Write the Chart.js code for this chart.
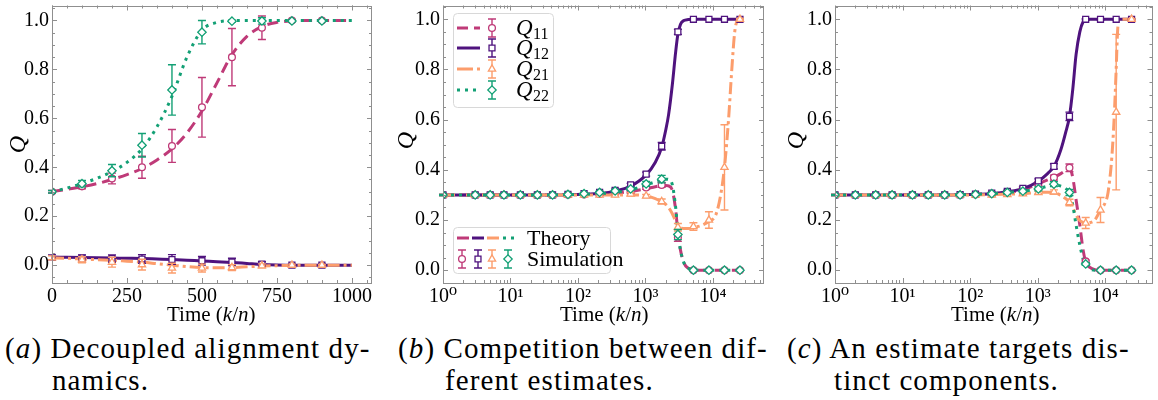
<!DOCTYPE html>
<html>
<head>
<meta charset="utf-8">
<script src="https://cdn.jsdelivr.net/npm/chart.js@4/dist/chart.umd.min.js"></script>
<style>
  body { margin: 0; background: #fff; width: 1158px; height: 400px; position: relative; overflow: hidden; font-family: "Liberation Serif", "DejaVu Serif", serif; color: #000; }
  canvas { position: absolute; top: 0; }
  .lab { position: absolute; font-family: "Liberation Serif", "DejaVu Serif", serif; font-size: 21px; line-height: 24px; white-space: nowrap; }
  .ylab { position: absolute; font-family: "Liberation Serif", "DejaVu Serif", serif; font-size: 24px; font-style: italic; transform: rotate(-90deg); }
  .cap { position: absolute; font-family: "Liberation Serif", "DejaVu Serif", serif; font-size: 29px; line-height: 32px; white-space: nowrap; letter-spacing: 1.1px; }
</style>
</head>
<body>
<canvas id="chartA" width="385" height="320" style="left:0px"></canvas>
<canvas id="chartB" width="390" height="320" style="left:380px"></canvas>
<canvas id="chartC" width="388" height="320" style="left:770px"></canvas>

<div class="ylab" style="left:9px;top:131px">Q</div>
<div class="ylab" style="left:397px;top:127px">Q</div>
<div class="ylab" style="left:787px;top:127px">Q</div>
<div class="lab" style="left:167px;top:302px">Time (<i>k</i>/<i>n</i>)</div>
<div class="lab" style="left:560px;top:302px">Time (<i>k</i>/<i>n</i>)</div>
<div class="lab" style="left:951px;top:302px">Time (<i>k</i>/<i>n</i>)</div>

<div class="cap" style="left:5px;top:332px">(<i>a</i>) Decoupled alignment dy-</div>
<div class="cap" style="left:52px;top:364px">namics.</div>
<div class="cap" style="left:398px;top:332px">(<i>b</i>) Competition between dif-</div>
<div class="cap" style="left:445px;top:364px">ferent estimates.</div>
<div class="cap" style="left:787px;top:332px">(<i>c</i>) An estimate targets dis-</div>
<div class="cap" style="left:834px;top:364px">tinct components.</div>

<script>
// ----- Cores -----
const C11 = "#bf3a78";
const C12 = "#4f137e";
const C21 = "#fc9d6c";
const C22 = "#13a075";
const FONT = '"Liberation Serif", "DejaVu Serif", serif';

// ----- Eixos -----
const yTicks = [0, 0.2, 0.4, 0.6, 0.8, 1.0];
const aXTicks = [0, 250, 500, 750, 1000];
const logTicks = [1, 10, 100, 1000, 10000];
const logLabels = ["10\u2070", "10\u00b9", "10\u00b2", "10\u00b3", "10\u2074"];

// ----- (a) simulacao -----
const aTime = [0, 100, 200, 300, 400, 500, 600, 700, 800, 900];
const aQ11 = [0.30, 0.322, 0.354, 0.40, 0.487, 0.645, 0.85, 0.97, 1.0, 1.0];
const aQ11Err = [0.005, 0.01, 0.022, 0.045, 0.067, 0.122, 0.117, 0.048, 0.004, 0.003];
const aQ12 = [0.032, 0.029, 0.027, 0.025, 0.023, 0.018, 0.013, 0.004, 0.0, 0.0];
const aQ12Err = [0.01, 0.013, 0.015, 0.018, 0.02, 0.018, 0.015, 0.01, 0.005, 0.004];
const aQ21 = [0.03, 0.022, 0.012, 0.002, -0.012, -0.012, -0.01, -0.003, 0.0, 0.0];
const aQ21Err = [0.008, 0.012, 0.02, 0.022, 0.02, 0.016, 0.012, 0.008, 0.004, 0.003];
const aQ22 = [0.30, 0.333, 0.386, 0.49, 0.716, 0.952, 0.997, 0.998, 0.998, 0.998];
const aQ22Err = [0.005, 0.013, 0.025, 0.048, 0.103, 0.048, 0.004, 0.013, 0.004, 0.003];

// ----- (a) teoria -----
const aCurveT = [0, 50, 100, 150, 200, 250, 300, 350, 400, 450, 500, 550, 600, 650, 700, 750, 800, 900, 1000];
const aCurveQ11 = [0.30, 0.31, 0.32, 0.333, 0.35, 0.37, 0.395, 0.43, 0.475, 0.54, 0.63, 0.745, 0.86, 0.935, 0.975, 0.992, 0.998, 1.0, 1.0];
const aCurveQ12 = [0.033, 0.032, 0.031, 0.03, 0.029, 0.028, 0.027, 0.025, 0.023, 0.02, 0.017, 0.014, 0.011, 0.007, 0.003, 0.001, 0.0, 0.0, 0.0];
const aCurveQ21 = [0.03, 0.028, 0.025, 0.022, 0.02, 0.016, 0.012, 0.006, 0.0, -0.006, -0.01, -0.011, -0.01, -0.007, -0.004, -0.002, -0.001, 0.0, 0.0];
const aCurveQ22 = [0.30, 0.315, 0.333, 0.355, 0.382, 0.42, 0.475, 0.565, 0.69, 0.85, 0.96, 0.992, 0.999, 1.0, 1.0, 1.0, 1.0, 1.0, 1.0];

// ----- (b) simulacao -----
const bTime = [1, 3, 5, 8, 14, 25, 42, 71, 123, 209, 355, 603, 1023, 1738, 3020, 5130, 8710, 14800, 25100];
const bQ11 = [0.30, 0.30, 0.30, 0.30, 0.30, 0.30, 0.30, 0.301, 0.302, 0.304, 0.307, 0.314, 0.33, 0.34, 0.13, 0.0, 0.0, 0.0, 0.0];
const bQ11Err = [0.002, 0.002, 0.002, 0.002, 0.002, 0.002, 0.002, 0.003, 0.003, 0.004, 0.005, 0.006, 0.008, 0.01, 0.015, 0.003, 0.002, 0.002, 0.002];
const bQ12 = [0.30, 0.30, 0.30, 0.30, 0.30, 0.30, 0.30, 0.302, 0.305, 0.31, 0.318, 0.34, 0.383, 0.494, 0.95, 1.0, 1.0, 1.0, 1.0];
const bQ12Err = [0.002, 0.002, 0.002, 0.002, 0.002, 0.002, 0.002, 0.003, 0.003, 0.004, 0.005, 0.006, 0.008, 0.015, 0.01, 0.002, 0.002, 0.002, 0.002];
const bQ21 = [0.30, 0.30, 0.30, 0.30, 0.30, 0.30, 0.30, 0.30, 0.30, 0.30, 0.30, 0.304, 0.296, 0.274, 0.171, 0.174, 0.2, 0.41, 1.0];
const bQ21Err = [0.002, 0.002, 0.002, 0.002, 0.002, 0.002, 0.002, 0.003, 0.003, 0.004, 0.004, 0.005, 0.006, 0.01, 0.015, 0.015, 0.033, 0.17, 0.003];
const bQ22 = [0.30, 0.30, 0.30, 0.30, 0.30, 0.30, 0.30, 0.302, 0.305, 0.31, 0.316, 0.324, 0.344, 0.363, 0.142, 0.0, 0.0, 0.0, 0.0];
const bQ22Err = [0.002, 0.002, 0.002, 0.002, 0.002, 0.002, 0.002, 0.003, 0.003, 0.004, 0.005, 0.006, 0.01, 0.015, 0.02, 0.003, 0.002, 0.002, 0.002];

// ----- (b) teoria -----
const bCurveT = [1, 30, 100, 200, 355, 603, 1023, 1400, 1738, 2000, 2200, 2500, 2800, 3020, 3300, 3700, 4300, 5130, 7000, 8710, 11000, 13000, 14800, 17000, 19000, 21000, 23000, 25100];
const bCurveQ11 = [0.30, 0.30, 0.302, 0.304, 0.307, 0.314, 0.325, 0.333, 0.337, 0.338, 0.336, 0.318, 0.24, 0.15, 0.08, 0.03, 0.008, 0.001, 0.0, 0.0, 0.0, 0.0, 0.0, 0.0, 0.0, 0.0, 0.0, 0.0];
const bCurveQ12 = [0.30, 0.30, 0.302, 0.306, 0.315, 0.335, 0.38, 0.43, 0.49, 0.56, 0.62, 0.74, 0.87, 0.94, 0.98, 0.995, 0.999, 1.0, 1.0, 1.0, 1.0, 1.0, 1.0, 1.0, 1.0, 1.0, 1.0, 1.0];
const bCurveQ21 = [0.30, 0.30, 0.30, 0.30, 0.30, 0.30, 0.296, 0.285, 0.272, 0.262, 0.25, 0.225, 0.195, 0.18, 0.17, 0.166, 0.166, 0.17, 0.18, 0.195, 0.22, 0.3, 0.41, 0.6, 0.8, 0.95, 0.995, 1.0];
const bCurveQ22 = [0.30, 0.30, 0.302, 0.305, 0.31, 0.32, 0.34, 0.352, 0.36, 0.363, 0.362, 0.34, 0.25, 0.155, 0.08, 0.03, 0.008, 0.001, 0.0, 0.0, 0.0, 0.0, 0.0, 0.0, 0.0, 0.0, 0.0, 0.0];

// ----- (c) simulacao -----
const cTime = [1, 2, 4, 7, 14, 24, 42, 71, 120, 209, 355, 603, 1023, 1738, 2950, 5130, 8500, 14500, 24500];
const cQ11 = [0.30, 0.30, 0.30, 0.30, 0.30, 0.30, 0.30, 0.30, 0.302, 0.304, 0.31, 0.32, 0.345, 0.369, 0.408, 0.035, 0.0, 0.0, 0.0];
const cQ11Err = [0.002, 0.002, 0.002, 0.002, 0.002, 0.002, 0.002, 0.003, 0.003, 0.004, 0.005, 0.006, 0.008, 0.01, 0.015, 0.005, 0.002, 0.002, 0.002];
const cQ12 = [0.30, 0.30, 0.30, 0.30, 0.30, 0.30, 0.30, 0.301, 0.303, 0.307, 0.314, 0.326, 0.356, 0.414, 0.613, 1.0, 1.0, 1.0, 1.0];
const cQ12Err = [0.002, 0.002, 0.002, 0.002, 0.002, 0.002, 0.002, 0.003, 0.003, 0.004, 0.005, 0.006, 0.008, 0.01, 0.017, 0.002, 0.002, 0.002, 0.002];
const cQ21 = [0.30, 0.30, 0.30, 0.30, 0.30, 0.30, 0.30, 0.30, 0.30, 0.30, 0.302, 0.305, 0.31, 0.312, 0.27, 0.188, 0.24, 0.63, 1.0];
const cQ21Err = [0.002, 0.002, 0.002, 0.002, 0.002, 0.002, 0.002, 0.003, 0.003, 0.004, 0.004, 0.005, 0.006, 0.008, 0.013, 0.022, 0.05, 0.31, 0.003];
const cQ22 = [0.30, 0.30, 0.30, 0.30, 0.30, 0.30, 0.30, 0.30, 0.302, 0.305, 0.31, 0.315, 0.324, 0.343, 0.31, 0.025, 0.0, 0.0, 0.0];
const cQ22Err = [0.002, 0.002, 0.002, 0.002, 0.002, 0.002, 0.002, 0.003, 0.003, 0.004, 0.005, 0.006, 0.008, 0.01, 0.012, 0.005, 0.002, 0.002, 0.002];

// ----- (c) teoria -----
const cCurveT = [1, 30, 100, 200, 355, 603, 1023, 1400, 1738, 2200, 2600, 2950, 3300, 3700, 4200, 4700, 5130, 6000, 7000, 8500, 10000, 11000, 12500, 13500, 14500, 15200, 16000, 24500];
const cCurveQ11 = [0.30, 0.30, 0.302, 0.305, 0.31, 0.32, 0.345, 0.36, 0.37, 0.385, 0.398, 0.408, 0.37, 0.28, 0.18, 0.08, 0.035, 0.01, 0.002, 0.0, 0.0, 0.0, 0.0, 0.0, 0.0, 0.0, 0.0, 0.0];
const cCurveQ12 = [0.30, 0.30, 0.302, 0.305, 0.313, 0.325, 0.355, 0.385, 0.413, 0.48, 0.55, 0.613, 0.72, 0.86, 0.95, 0.99, 0.998, 1.0, 1.0, 1.0, 1.0, 1.0, 1.0, 1.0, 1.0, 1.0, 1.0, 1.0];
const cCurveQ21 = [0.30, 0.30, 0.30, 0.301, 0.303, 0.305, 0.31, 0.311, 0.31, 0.298, 0.285, 0.27, 0.25, 0.22, 0.198, 0.19, 0.188, 0.19, 0.2, 0.24, 0.27, 0.31, 0.45, 0.6, 0.8, 0.95, 1.0, 1.0];
const cCurveQ22 = [0.30, 0.30, 0.302, 0.305, 0.31, 0.315, 0.325, 0.335, 0.34, 0.335, 0.325, 0.31, 0.26, 0.18, 0.1, 0.045, 0.025, 0.005, 0.0, 0.0, 0.0, 0.0, 0.0, 0.0, 0.0, 0.0, 0.0, 0.0];

// ----- Estilos -----
const DASH11 = [11, 6];
const DASH12 = [];
const DASH21 = [12, 4, 3, 4];
const DASH22 = [3, 5];

function pts(xs, ys) {
  return xs.map((x, i) => ({ x: x, y: ys[i] }));
}

// ordem menor = desenhado por cima (Q22 fica por cima, como no original)
function theory(label, xs, ys, color, dash, ord) {
  return {
    label, data: pts(xs, ys), showLine: true, borderColor: color, borderWidth: 3,
    borderDash: dash, pointRadius: 0, pointHoverRadius: 0, cubicInterpolationMode: "monotone", order: 20 + ord
  };
}

function sim(label, xs, ys, err, color, style, ord) {
  return {
    label, data: pts(xs, ys), err: err, showLine: false, borderColor: color,
    backgroundColor: "#fff", pointStyle: style, pointRadius: style === "circle" ? 3.4 : 4.2,
    pointBorderWidth: 1.3, pointBackgroundColor: "#fff", pointBorderColor: color, order: 10 + ord
  };
}

function series(t, q11, q12, q21, q22, ct, c11, c12, c21, c22, e11, e12, e21, e22) {
  return [
    theory("Q11", ct, c11, C11, DASH11, 4),
    theory("Q12", ct, c12, C12, DASH12, 3),
    theory("Q21", ct, c21, C21, DASH21, 2),
    theory("Q22", ct, c22, C22, DASH22, 1),
    sim("Q11 sim", t, q11, e11, C11, "circle", 4),
    sim("Q12 sim", t, q12, e12, C12, "rect", 3),
    sim("Q21 sim", t, q21, e21, C21, "triangle", 2),
    sim("Q22 sim", t, q22, e22, C22, "rectRot", 1)
  ];
}

// ----- Plugins -----
const errPlugin = {
  id: "errbars",
  beforeDatasetDraw(chart, args) {
    const ds = chart.data.datasets[args.index];
    if (!ds.err) return;
    const { ctx, scales: { x, y } } = chart;
    ctx.save();
    ctx.strokeStyle = ds.borderColor;
    ctx.lineWidth = 1.4;
    ds.data.forEach((p, i) => {
      const px = x.getPixelForValue(p.x);
      const y1 = y.getPixelForValue(p.y - ds.err[i]);
      const y2 = y.getPixelForValue(p.y + ds.err[i]);
      ctx.beginPath();
      ctx.moveTo(px, y1); ctx.lineTo(px, y2);
      ctx.moveTo(px - 4, y1); ctx.lineTo(px + 4, y1);
      ctx.moveTo(px - 4, y2); ctx.lineTo(px + 4, y2);
      ctx.stroke();
    });
    ctx.restore();
  }
};

const framePlugin = {
  id: "frame",
  afterDraw(chart, args, opts) {
    const { ctx, chartArea: a, scales: { x, y } } = chart;
    ctx.save();
    ctx.strokeStyle = "#8f8f8f";
    ctx.lineWidth = 1;
    ctx.beginPath();
    const tickX = (vals, len) => vals.forEach(v => {
      const px = Math.round(x.getPixelForValue(v)) + 0.5;
      if (px < a.left || px > a.right) return;
      ctx.moveTo(px, a.bottom); ctx.lineTo(px, a.bottom - len);
      ctx.moveTo(px, a.top); ctx.lineTo(px, a.top + len);
    });
    const tickY = (vals, len) => vals.forEach(v => {
      const py = Math.round(y.getPixelForValue(v)) + 0.5;
      if (py < a.top || py > a.bottom) return;
      ctx.moveTo(a.left, py); ctx.lineTo(a.left + len, py);
      ctx.moveTo(a.right, py); ctx.lineTo(a.right - len, py);
    });
    tickX(opts.xMajor, 5); tickX(opts.xMinor, 3);
    tickY(opts.yMajor, 5); tickY(opts.yMinor, 3);
    ctx.stroke();
    ctx.strokeRect(Math.round(a.left) + 0.5, Math.round(a.top) + 0.5, Math.round(a.width) - 1, Math.round(a.height) - 1);
    ctx.restore();
  }
};

function drawErrIcon(ctx, x, y, color, style) {
  ctx.save();
  ctx.strokeStyle = color; ctx.fillStyle = "#fff"; ctx.lineWidth = 1.4;
  ctx.beginPath();
  ctx.moveTo(x, y - 9); ctx.lineTo(x, y + 9);
  ctx.moveTo(x - 4, y - 9); ctx.lineTo(x + 4, y - 9);
  ctx.moveTo(x - 4, y + 9); ctx.lineTo(x + 4, y + 9);
  ctx.stroke();
  ctx.lineWidth = 1.3;
  Chart.helpers.drawPoint(ctx, { pointStyle: style, radius: style === "circle" ? 3.4 : 4.2, rotation: 0, borderWidth: 1.3 }, x, y);
  ctx.restore();
}

function drawLineSample(ctx, x1, x2, y, color, dash) {
  ctx.save();
  ctx.strokeStyle = color; ctx.lineWidth = 3; ctx.setLineDash(dash);
  ctx.beginPath(); ctx.moveTo(x1, y); ctx.lineTo(x2, y); ctx.stroke();
  ctx.restore();
}

function legendBox(ctx, x, y, w, h) {
  ctx.save();
  ctx.fillStyle = "rgba(255,255,255,0.8)";
  ctx.strokeStyle = "#d8d8d8"; ctx.lineWidth = 1;
  ctx.beginPath();
  ctx.roundRect(x + 0.5, y + 0.5, w, h, 4);
  ctx.fill(); ctx.stroke();
  ctx.restore();
}

const legendPlugin = {
  id: "legendas",
  afterDraw(chart) {
    const ctx = chart.ctx;
    // legenda das series
    legendBox(ctx, 73, 13, 100, 94);
    const rows = [
      ["11", C11, DASH11, "circle", 28],
      ["12", C12, DASH12, "rect", 48],
      ["21", C21, [16, 4], "triangle", 69],
      ["22", C22, DASH22, "rectRot", 90]
    ];
    rows.forEach(r => {
      drawLineSample(ctx, 77, 100, r[4], r[1], r[2]);
      drawErrIcon(ctx, 112, r[4], r[1], r[3]);
      ctx.fillStyle = "#000";
      ctx.textBaseline = "alphabetic";
      ctx.font = "italic 23px " + FONT;
      ctx.fillText("Q", 136, r[4] + 7);
      ctx.font = "16px " + FONT;
      ctx.fillText(r[0], 153, r[4] + 11);
    });
    // legenda teoria / simulacao
    legendBox(ctx, 73, 227, 157, 46);
    drawLineSample(ctx, 77, 89, 238, C11, []);
    drawLineSample(ctx, 92, 104, 238, C12, []);
    drawLineSample(ctx, 107, 119, 238, C21, []);
    drawLineSample(ctx, 123, 135, 238, C22, [3, 5]);
    drawErrIcon(ctx, 82, 259, C11, "circle");
    drawErrIcon(ctx, 98, 259, C12, "rect");
    drawErrIcon(ctx, 112, 259, C21, "triangle");
    drawErrIcon(ctx, 128, 259, C22, "rectRot");
    ctx.fillStyle = "#000";
    ctx.font = "22px " + FONT;
    ctx.fillText("Theory", 147, 245);
    ctx.fillText("Simulation", 147, 266);
  }
};

// ----- Montagem -----
function range(a, b, s) {
  const out = [];
  for (let v = a; v <= b + 1e-9; v += s) out.push(+v.toFixed(4));
  return out;
}
const logMinor = [];
[1, 10, 100, 1000, 10000].forEach(d => { for (let k = 2; k <= 9; k++) logMinor.push(d * k); });

function noPad(s) {
  s.paddingTop = 0; s.paddingBottom = 0; s.paddingLeft = 0; s.paddingRight = 0;
}

function makeOptions(xScale, padTop, padRight, yWidth, yMin, yMax, frame) {
  return {
    responsive: false,
    animation: false,
    events: [],
    layout: { padding: { top: padTop, right: padRight, left: 0, bottom: 0 } },
    plugins: { legend: { display: false }, tooltip: { enabled: false }, frame: frame },
    scales: {
      x: Object.assign({
        grid: { display: false, drawTicks: false, tickLength: 0 }, border: { display: false },
        afterFit: s => { s.height = 37; noPad(s); }
      }, xScale),
      y: {
        type: "linear", min: yMin, max: yMax,
        grid: { display: false, drawTicks: false, tickLength: 0 }, border: { display: false },
        afterBuildTicks: s => { s.ticks = yTicks.map(v => ({ value: v })); },
        ticks: { font: { family: FONT, size: 20 }, color: "#000", padding: 3, callback: v => v.toFixed(1) },
        afterFit: s => { s.width = yWidth; noPad(s); }
      }
    }
  };
}

const frameA = { xMajor: aXTicks, xMinor: range(0, 1050, 50), yMajor: yTicks, yMinor: range(-0.05, 1.05, 0.05) };
const frameLog = { xMajor: logTicks, xMinor: logMinor, yMajor: yTicks, yMinor: range(-0.05, 1.05, 0.05) };

const logX = (max) => ({
  type: "logarithmic", min: 1, max: max,
  afterBuildTicks: s => { s.ticks = logTicks.map(v => ({ value: v })); },
  ticks: { font: { family: FONT, size: 20 }, color: "#000", padding: 2, maxRotation: 0, autoSkip: false,
    callback: (v) => logLabels[logTicks.indexOf(v)] }
});

const linX = {
  type: "linear", min: 0, max: 1067,
  afterBuildTicks: s => { s.ticks = aXTicks.map(v => ({ value: v })); },
  ticks: { font: { family: FONT, size: 20 }, color: "#000", padding: 2, maxRotation: 0, autoSkip: false, callback: v => String(v) }
};

new Chart(document.getElementById("chartA"), {
  type: "scatter",
  data: { datasets: series(aTime, aQ11, aQ12, aQ21, aQ22, aCurveT, aCurveQ11, aCurveQ12, aCurveQ21, aCurveQ22, aQ11Err, aQ12Err, aQ21Err, aQ22Err) },
  options: makeOptions(linX, 5, 13, 52, -0.073, 1.061, frameA),
  plugins: [errPlugin, framePlugin]
});

new Chart(document.getElementById("chartB"), {
  type: "scatter",
  data: { datasets: series(bTime, bQ11, bQ12, bQ21, bQ22, bCurveT, bCurveQ11, bCurveQ12, bCurveQ21, bCurveQ22, bQ11Err, bQ12Err, bQ21Err, bQ22Err) },
  options: makeOptions(logX(57000), 3, 6, 63, -0.051, 1.055, frameLog),
  plugins: [errPlugin, framePlugin, legendPlugin]
});

new Chart(document.getElementById("chartC"), {
  type: "scatter",
  data: { datasets: series(cTime, cQ11, cQ12, cQ21, cQ22, cCurveT, cCurveQ11, cCurveQ12, cCurveQ21, cCurveQ22, cQ11Err, cQ12Err, cQ21Err, cQ22Err) },
  options: makeOptions(logX(50000), 3, 3, 65, -0.051, 1.055, frameLog),
  plugins: [errPlugin, framePlugin]
});
</script>
</body>
</html>
